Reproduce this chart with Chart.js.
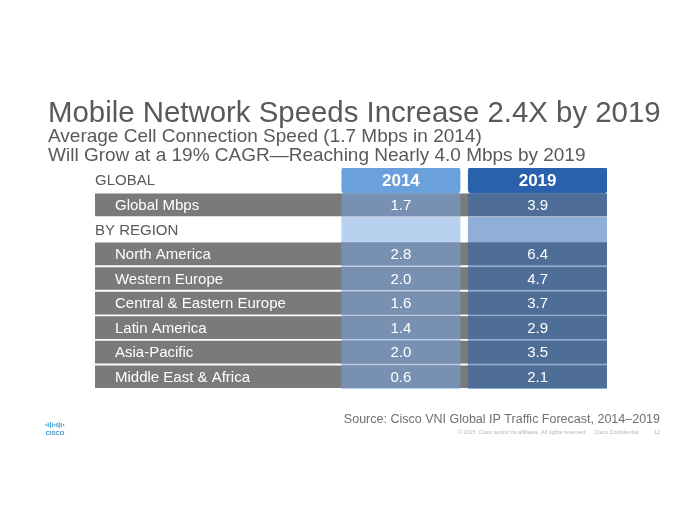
<!DOCTYPE html>
<html>
<head>
<meta charset="utf-8">
<script src="https://cdn.jsdelivr.net/npm/chart.js@4.4.1/dist/chart.umd.min.js"></script>
<style>
  body { margin: 0; background: #fff; }
</style>
</head>
<body>
<canvas id="speeds" width="700" height="525"></canvas>
<script>
// table rows, top to bottom
const rows = ['GLOBAL', 'Global Mbps', 'BY REGION', 'North America', 'Western Europe',
  'Central & Eastern Europe', 'Latin America', 'Asia-Pacific', 'Middle East & Africa'];
const years = ['2014', '2019'];
// average cell connection speed, Mbps (null = section heading row)
const speeds2014 = [null, 1.7, null, 2.8, 2.0, 1.6, 1.4, 2.0, 0.6];
const speeds2019 = [null, 3.9, null, 6.4, 4.7, 3.7, 2.9, 3.5, 2.1];

const title = 'Mobile Network Speeds Increase 2.4X by 2019';
const subtitle = ['Average Cell Connection Speed (1.7 Mbps in 2014)',
  'Will Grow at a 19% CAGR\u2014Reaching Nearly 4.0 Mbps by 2019'];
const source = 'Source: Cisco VNI Global IP Traffic Forecast, 2014\u20132019';
const copyright = '\u00a9 2015  Cisco and/or its affiliates. All rights reserved.     Cisco Confidential          12';

// column edges on a 0..100 table-width axis
const COL = { '2014': [48.2, 71.3], '2019': [72.9, 100] };
const INDENT = 3.9;
const FONT = '"Liberation Sans", Arial, sans-serif';

const isData = (i) => speeds2014[i] != null;

const pick = (fn) => rows.map((r, i) => fn(i));

const datasets = [
  // value cells
  { data: pick(i => isData(i) ? COL['2014'] : null), backgroundColor: '#7891b3', barThickness: 22, order: 1 },
  { data: pick(i => isData(i) ? COL['2019'] : null), backgroundColor: '#4f6e97', barThickness: 22, order: 1 },
  // header cells
  { data: pick(i => i === 0 ? COL['2014'] : null), backgroundColor: '#6aa0dc', barThickness: 26,
    borderRadius: 4, borderSkipped: false, order: 1 },
  { data: pick(i => i === 0 ? COL['2019'] : null), backgroundColor: '#2a61ad', barThickness: 26,
    borderRadius: 4, borderSkipped: false, order: 1 },
  // grey row bands
  { data: pick(i => isData(i) ? [0, 100] : null), backgroundColor: '#7a7a7a', barThickness: 22, order: 2 },
  // light column backdrop from BY REGION down
  { data: pick(i => i >= 2 ? COL['2014'] : null), backgroundColor: '#b8d1ee',
    barPercentage: 1, categoryPercentage: 1, order: 3 },
  { data: pick(i => i >= 2 ? COL['2019'] : null), backgroundColor: '#8fafd7',
    barPercentage: 1, categoryPercentage: 1, order: 3 }
];
datasets.forEach(d => { d.grouped = false; d.borderWidth = 0; });

const cellText = {
  id: 'cellText',
  afterDatasetsDraw(chart) {
    const { ctx, scales: { x, y } } = chart;
    const mid = (c) => x.getPixelForValue((c[0] + c[1]) / 2);
    ctx.save();
    ctx.textBaseline = 'middle';
    rows.forEach((name, i) => {
      const cy = y.getPixelForValue(i) + 1;
      ctx.font = '15px ' + FONT;
      ctx.textAlign = 'left';
      ctx.fillStyle = isData(i) ? '#ffffff' : '#595959';
      ctx.fillText(name, x.getPixelForValue(isData(i) ? INDENT : 0), cy);
      if (isData(i)) {
        ctx.textAlign = 'center';
        ctx.fillText(speeds2014[i].toFixed(1), mid(COL['2014']), cy);
        ctx.fillText(speeds2019[i].toFixed(1), mid(COL['2019']), cy);
      }
    });
    ctx.font = 'bold 17px ' + FONT;
    ctx.textAlign = 'center';
    ctx.fillStyle = '#ffffff';
    years.forEach(yr => ctx.fillText(yr, mid(COL[yr]), y.getPixelForValue(0) + 1));
    ctx.restore();
  }
};

const slideText = {
  id: 'slideText',
  afterDraw(chart) {
    const ctx = chart.ctx;
    ctx.save();
    ctx.textBaseline = 'alphabetic';
    ctx.textAlign = 'left';
    ctx.fillStyle = '#595959';
    ctx.font = '29.4px ' + FONT;
    ctx.fillText(title, 48, 122);
    ctx.font = '19px ' + FONT;
    ctx.fillText(subtitle[0], 48, 142);
    ctx.fillText(subtitle[1], 48, 161);

    ctx.textAlign = 'right';
    ctx.font = '12.5px ' + FONT;
    ctx.fillStyle = '#6f6f6f';
    ctx.fillText(source, 660, 423);
    ctx.font = '5.5px ' + FONT;
    ctx.fillStyle = '#b5b5b5';
    ctx.fillText(copyright, 660, 434);

    // cisco mark
    ctx.strokeStyle = '#49a7dc';
    ctx.lineWidth = 1.2;
    const bars = [2, 4, 6, 4, 2, 4, 6, 4, 2];
    bars.forEach((h, k) => {
      const bx = 46 + k * 2.2;
      ctx.beginPath();
      ctx.moveTo(bx, 425 - h / 2);
      ctx.lineTo(bx, 425 + h / 2);
      ctx.stroke();
    });
    ctx.textAlign = 'center';
    ctx.fillStyle = '#3d8fc8';
    ctx.font = 'bold 6px ' + FONT;
    ctx.fillText('CISCO', 55, 435);
    ctx.restore();
  }
};

new Chart(document.getElementById('speeds'), {
  type: 'bar',
  data: { labels: rows, datasets: datasets },
  options: {
    indexAxis: 'y',
    responsive: false,
    animation: false,
    layout: { padding: { left: 95, right: 93, top: 168, bottom: 136 } },
    scales: {
      x: { type: 'linear', min: 0, max: 100, display: false },
      y: { type: 'category', display: false }
    },
    plugins: {
      legend: { display: false },
      tooltip: { enabled: false }
    }
  },
  plugins: [cellText, slideText]
});
</script>
</body>
</html>
